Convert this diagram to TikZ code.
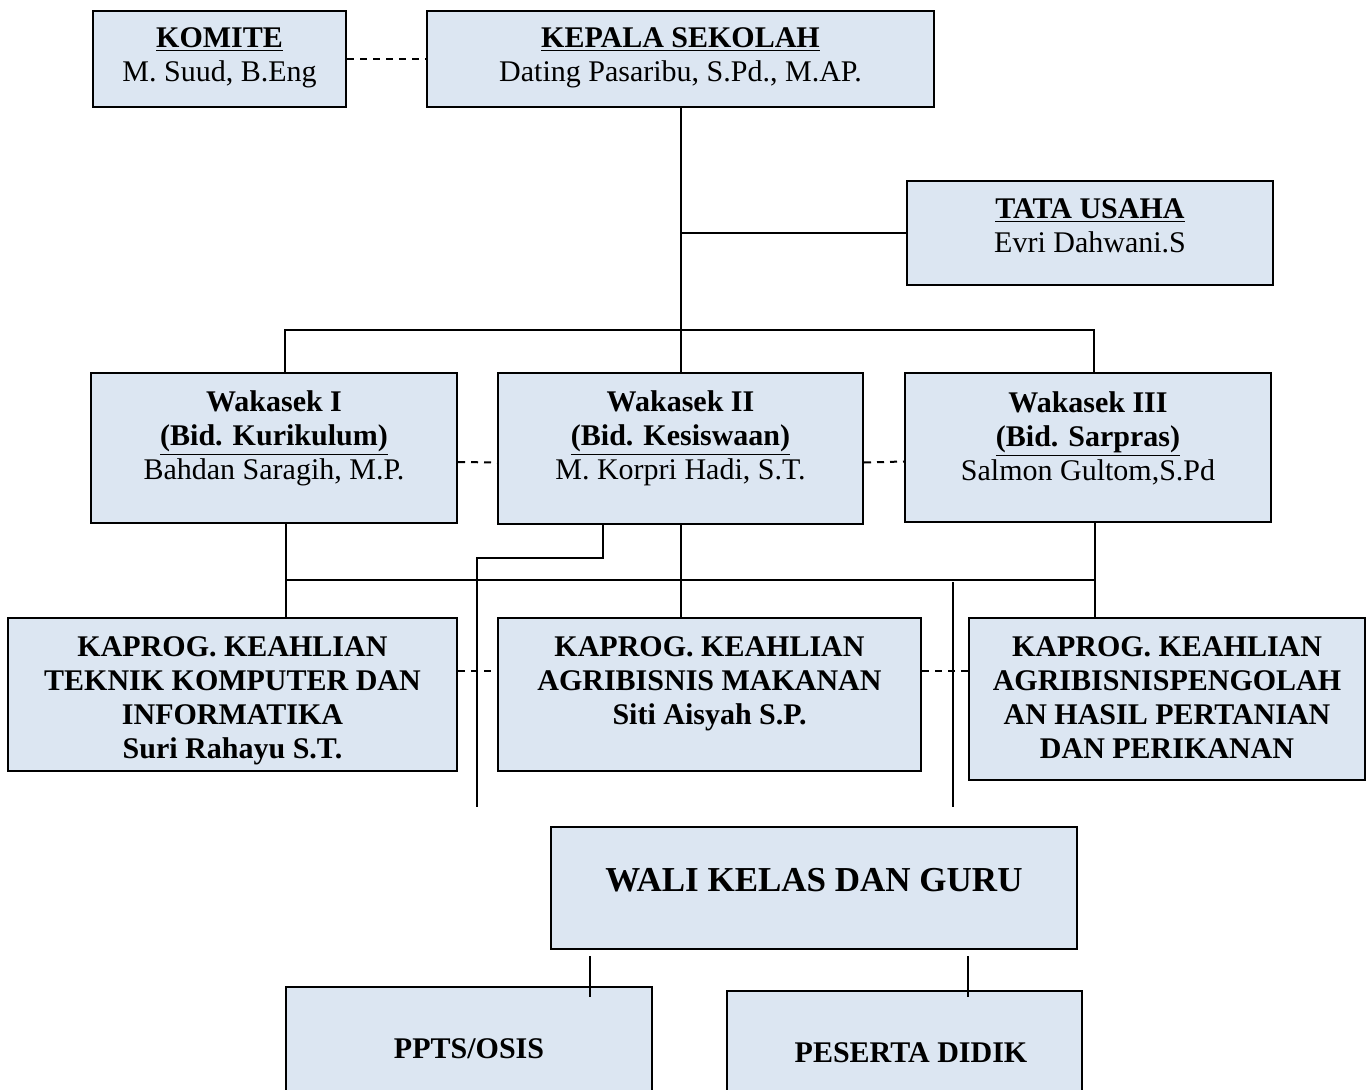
\documentclass[tikz,border=0pt]{standalone}
\usepackage{fontspec}
\setmainfont{Liberation Serif}
\definecolor{boxblue}{HTML}{DCE6F2}

\newcommand{\BarTop}{330}
\newcommand{\BarLow}{580}
\newcommand{\DashKap}{671}

\begin{document}
\begin{tikzpicture}[
  x = 0.5pt, y = -0.5pt,
  box/.style n args={2}{draw=black,line width=1pt,fill=boxblue,inner sep=0pt,
    minimum width=#1*0.5pt,minimum height=#2*0.5pt},
  txt/.style={align=center,inner sep=0pt,font=\fontsize{15}{17}\selectfont},
  link/.style={line width=1pt,black},
  dashlink/.style={line width=1pt,black,dash pattern=on 3.5pt off 3pt}
  ]
	\useasboundingbox (0,0) rectangle (1368,1090);

	%draw the boxes
	\node[box={253}{96}] (komite) at (219.5,59) {};
	\node[box={507}{96}] (kepsek) at (680.5,59) {};
	\node[box={366}{104}] (tu) at (1090,233) {};

	\node[box={366}{150}] (wak1) at (274,448) {};
	\node[box={365}{151}] (wak2) at (680.5,448.5) {};
	\node[box={366}{149}] (wak3) at (1088,447.5) {};

	\node[box={449}{153}] (kap1) at (232.5,694.5) {};
	\node[box={423}{153}] (kap2) at (709.5,694.5) {};
	\node[box={396}{162}] (kap3) at (1167,699) {};

	\node[box={526}{122}] (wali) at (814,888) {};
	\node[box={366}{122}] (ppts) at (469,1048) {};
	\node[box={355}{124}] (peserta) at (904.5,1053) {};

	%draw the lines below the head
	\draw[dashlink] (komite.east) -- (kepsek.west);
	\draw[link] (kepsek.south) -- (wak2.north);
	\draw[link] (tu.west) -- (tu.west -| kepsek.south);

	\coordinate (barL) at (285,\BarTop);
	\coordinate (barR) at (1094,\BarTop);
	\draw[link] (wak1.north -| barL) |- (barR) -- (wak3.north -| barR);

	\draw[dashlink] ([yshift=-7pt]wak1.east) -- ([yshift=-7pt]wak2.west);
	\draw[dashlink] ([yshift=-7pt]wak2.east) -- ([yshift=-7pt]wak3.west);

	%draw the lines to the kaprog boxes
	\coordinate (jL) at (286,\BarLow);
	\coordinate (jR) at (1095,\BarLow);
	\draw[link] (wak1.south -| jL) -- (kap1.north -| jL);
	\draw[link] (wak2.south) -- (kap2.north -| wak2.south);
	\draw[link] (wak3.south -| jR) -- (kap3.north -| jR);
	\draw[link] (jL) -- (jR);

	\coordinate (kd) at (0,\DashKap);
	\draw[dashlink] (kap1.east |- kd) -- (kap2.west |- kd);
	\draw[dashlink] (kap2.east |- kd) -- (kap3.west |- kd);

	%draw the lines down to the guru
	\coordinate (bend) at (603,558);
	\coordinate (gL) at (477,807);
	\coordinate (gR) at (953,807);
	\draw[link] (wak2.south -| bend) |- (gL |- bend) -- (gL);
	\draw[link] ([yshift=-1pt]gR |- jR) -- (gR);

	\coordinate (tA) at (590,997);
	\coordinate (tB) at (968,997);
	\draw[link] ([yshift=-3pt]wali.south -| tA) -- (tA);
	\draw[link] ([yshift=-3pt]wali.south -| tB) -- (tB);

	%the texts
	\node[txt] (komiteT) at (219.5,58) {\textbf{\underline{KOMITE}}\\M. Suud, B.Eng};
	\node[txt] (kepsekT) at (680.5,58) {\textbf{\underline{KEPALA SEKOLAH}}\\Dating Pasaribu, S.Pd., M.AP.};
	\node[txt] (tuT) at (1090,226) {\textbf{\underline{TATA USAHA}}\\Evri Dahwani.S};

	\node[txt] (wak1T) at (274,438) {\textbf{Wakasek I}\\\textbf{\underline{(Bid. Kurikulum)}}\\Bahdan Saragih, M.P.};
	\node[txt] (wak2T) at (680.5,438) {\textbf{Wakasek II}\\\textbf{\underline{(Bid. Kesiswaan)}}\\M. Korpri Hadi, S.T.};
	\node[txt] (wak3T) at (1088,438) {\textbf{Wakasek III}\\\textbf{\underline{(Bid. Sarpras)}}\\Salmon Gultom,S.Pd};

	\node[txt,font=\fontsize{15}{17}\selectfont\bfseries] (kap1T) at (232.5,701)
	  {KAPROG. KEAHLIAN\\TEKNIK KOMPUTER DAN\\INFORMATIKA\\Suri Rahayu S.T.};
	\node[txt,font=\fontsize{15}{17}\selectfont\bfseries] (kap2T) at (709.5,684)
	  {KAPROG. KEAHLIAN\\AGRIBISNIS MAKANAN\\Siti Aisyah S.P.};
	\node[txt,font=\fontsize{15}{17}\selectfont\bfseries] (kap3T) at (1167,698)
	  {KAPROG. KEAHLIAN\\AGRIBISNISPENGOLAH\\AN HASIL PERTANIAN\\DAN PERIKANAN};

	\node[txt,font=\fontsize{17.5}{20}\selectfont\bfseries] (waliT) at (814,880) {WALI KELAS DAN GURU};
	\node[txt,font=\fontsize{15}{17}\selectfont\bfseries] (pptsT) at (469,1049) {PPTS/OSIS};
	\node[txt,font=\fontsize{15}{17}\selectfont\bfseries] (pesertaT) at (911,1053) {PESERTA DIDIK};

\end{tikzpicture}
\end{document}
